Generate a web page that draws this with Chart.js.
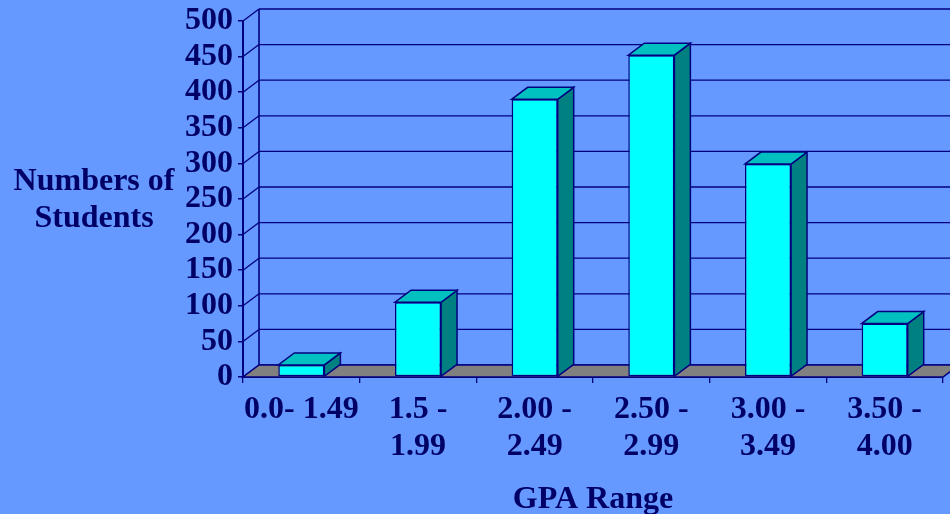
<!DOCTYPE html>
<html>
<head>
<meta charset="utf-8">
<script src="https://cdn.jsdelivr.net/npm/chart.js@4/dist/chart.umd.min.js"></script>
<style>
  html, body { margin: 0; padding: 0; background: #6699FF; }
  #wrap { position: relative; width: 950px; height: 514px; }
  #chart { position: absolute; left: 0; top: 0; }
  #ytitle {
    position: absolute; left: 0; top: 161px; width: 188px;
    text-align: center; font: bold 32px "Liberation Serif", "Times New Roman", serif;
    line-height: 37px; color: #000066;
  }
</style>
</head>
<body>
<div id="wrap">
  <canvas id="chart" width="950" height="514"></canvas>
  <div id="ytitle">Numbers of<br>Students</div>
</div>
<script>
// GPA ranges and the number of students in each
const categories = [
  ['0.0- 1.49'],
  ['1.5 -', '1.99'],
  ['2.00 -', '2.49'],
  ['2.50 -', '2.99'],
  ['3.00 -', '3.49'],
  ['3.50 -', '4.00']
];
const students = [17, 105, 390, 452, 299, 75];
const yTicks = { min: 0, max: 500, step: 50 };
const xTitle = 'GPA Range';

const NAVY = '#000080';
const TEXT = '#000066';
const FONT = '"Liberation Serif", "Times New Roman", serif';
const DEPTH = { dx: 16, dy: -12 };

function poly(ctx, pts, fill, stroke, lw) {
  ctx.beginPath();
  ctx.moveTo(pts[0][0], pts[0][1]);
  for (let i = 1; i < pts.length; i++) ctx.lineTo(pts[i][0], pts[i][1]);
  ctx.closePath();
  if (fill) { ctx.fillStyle = fill; ctx.fill(); }
  if (stroke) { ctx.strokeStyle = stroke; ctx.lineWidth = lw; ctx.stroke(); }
}

// Back wall, gridlines and floor of the 3-D box
const wallPlugin = {
  id: 'wall',
  beforeDatasetsDraw(chart) {
    const { ctx, chartArea: a, scales: { y } } = chart;
    const { dx, dy } = DEPTH;
    ctx.save();
    ctx.lineCap = 'butt';
    // gridlines on the back wall with connectors to the front axis
    for (let v = yTicks.min; v <= yTicks.max; v += yTicks.step) {
      const py = y.getPixelForValue(v);
      ctx.strokeStyle = NAVY;
      ctx.lineWidth = 1.3;
      ctx.beginPath();
      ctx.moveTo(a.left + dx, py + dy);
      ctx.lineTo(a.right + dx, py + dy);
      ctx.stroke();
      ctx.beginPath();
      ctx.moveTo(a.left, py);
      ctx.lineTo(a.left + dx, py + dy);
      ctx.stroke();
    }
    // back wall left edge
    ctx.lineWidth = 1.6;
    ctx.beginPath();
    ctx.moveTo(a.left + dx, y.getPixelForValue(yTicks.max) + dy);
    ctx.lineTo(a.left + dx, y.getPixelForValue(0) + dy);
    ctx.stroke();
    // floor
    const by = y.getPixelForValue(0);
    poly(ctx, [[a.left, by], [a.right, by], [a.right + dx, by + dy], [a.left + dx, by + dy]],
      '#808080', NAVY, 1.5);
    ctx.restore();
  },
  // top and side faces of every column
  afterDatasetsDraw(chart) {
    const { ctx } = chart;
    const { dx, dy } = DEPTH;
    ctx.save();
    ctx.lineJoin = 'miter';
    chart.getDatasetMeta(0).data.forEach(bar => {
      const p = bar.getProps(['x', 'y', 'base', 'width'], true);
      const l = p.x - p.width / 2, r = p.x + p.width / 2;
      const t = p.y, b = p.base;
      poly(ctx, [[r, t], [r + dx, t + dy], [r + dx, b + dy], [r, b]], '#008080', NAVY, 1.5);
      poly(ctx, [[l, t], [r, t], [r + dx, t + dy], [l + dx, t + dy]], '#00C0C0', NAVY, 1.5);
    });
    ctx.restore();
  }
};

new Chart(document.getElementById('chart'), {
  type: 'bar',
  data: {
    labels: categories,
    datasets: [{
      data: students,
      backgroundColor: '#00FFFF',
      borderColor: NAVY,
      borderWidth: 1.5,
      borderSkipped: false,
      categoryPercentage: 1,
      barPercentage: 0.395
    }]
  },
  options: {
    responsive: false,
    animation: false,
    events: [],
    layout: { padding: { top: 20, right: 7, left: 0, bottom: 0 } },
    plugins: { legend: { display: false }, tooltip: { enabled: false } },
    scales: {
      x: {
        afterFit(s) { s.height = 137; },
        grid: { display: true, drawOnChartArea: false, drawTicks: true, tickLength: 6,
                color: NAVY, lineWidth: 1.3, offset: true },
        border: { display: true, color: NAVY, width: 2 },
        ticks: { color: TEXT, padding: 8, maxRotation: 0, autoSkip: false,
                 font: { family: FONT, size: 32, weight: 'bold', lineHeight: 1.16 } },
        title: { display: true, text: xTitle, color: TEXT, padding: { top: 0, bottom: -5 },
                 font: { family: FONT, size: 32, weight: 'bold', lineHeight: 1.2 } }
      },
      y: {
        min: yTicks.min, max: yTicks.max,
        afterFit(s) { s.width = 243; },
        grid: { display: true, drawOnChartArea: false, drawTicks: true, tickLength: 5,
                color: NAVY, lineWidth: 1.5 },
        border: { display: true, color: NAVY, width: 2 },
        ticks: { stepSize: yTicks.step, color: TEXT, padding: 5,
                 font: { family: FONT, size: 32, weight: 'bold', lineHeight: 1.0 } }
      }
    }
  },
  plugins: [wallPlugin]
});
</script>
</body>
</html>
